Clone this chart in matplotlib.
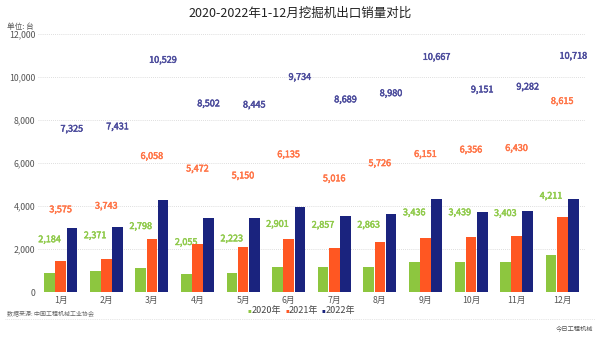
import numpy as np
import matplotlib.pyplot as plt
import matplotlib.patheffects as pe

plt.rcParams['font.family'] = ['Noto Sans CJK SC', 'DejaVu Sans']

months = ['1月', '2月', '3月', '4月', '5月', '6月',
          '7月', '8月', '9月', '10月', '11月', '12月']
sales_2020 = [2184, 2371, 2798, 2055, 2223, 2901, 2857, 2863, 3436, 3439, 3403, 4211]
sales_2021 = [3575, 3743, 6058, 5472, 5150, 6135, 5016, 5726, 6151, 6356, 6430, 8615]
sales_2022 = [7325, 7431, 10529, 8502, 8445, 9734, 8689, 8980, 10667, 9151, 9282, 10718]
years = ['2020年', '2021年', '2022年']

bar_colors = ['#8dc63f', '#ff5722', '#1a237e']
text_colors = ['#8fca4a', '#ff7446', '#4b4b9c']

fig = plt.figure(figsize=(6, 3.39), dpi=100)
ax = fig.add_axes([0.0633, 0.1386, 0.9117, 0.7611])
# bars sit on their own, compressed scale; value labels use the main axis
axb = ax.twinx()

x = np.arange(len(months))
w = 0.235
series = [sales_2020, sales_2021, sales_2022]
for i, vals in enumerate(series):
    off = (i - 1) * (w + 0.01)
    axb.bar(x + off, vals, width=w, color=bar_colors[i], zorder=3)
    for xi, v in zip(x + off, vals):
        t = ax.text(xi, v + 40, f'{v:,}', ha='center', va='bottom',
                    fontsize=6.5, color=text_colors[i])
        # slightly heavier strokes for the value labels
        t.set_path_effects([pe.Stroke(linewidth=0.35, foreground=text_colors[i]),
                            pe.Normal()])

ax.set_xlim(-0.5, 11.5)
ax.set_ylim(0, 12000)
axb.set_ylim(0, 12000 / 0.405)
axb.set_yticks([])
ax.set_yticks(range(0, 12001, 2000))
ax.set_yticklabels([f'{t:,}' for t in range(0, 12001, 2000)])
ax.set_xticks(x)
ax.set_xticklabels(months)
ax.tick_params(axis='both', length=0, labelsize=6.3, colors='#555555')
ax.tick_params(axis='x', pad=3)
ax.tick_params(axis='y', pad=2)
ax.grid(axis='y', linestyle=(0, (1, 1.5)), color='#d4d4d4', linewidth=0.6)
ax.set_axisbelow(True)
for a in (ax, axb):
    for s in a.spines.values():
        s.set_visible(False)

fig.text(0.5, 1 - 13 / 339, '2020-2022年1-12月挖掘机出口销量对比',
         ha='center', va='center', fontsize=9, color='#222222')
fig.text(7 / 600, 1 - 27 / 339, '单位: 台', ha='left', va='center',
         fontsize=5.5, color='#555555')

# legend row
lx = 248
for i, yr in enumerate(years):
    fig.text(lx / 600, 1 - 311 / 339, '▪', ha='left', va='center',
             fontsize=4, color=bar_colors[i], family=['DejaVu Sans'])
    fig.text((lx + 4) / 600, 1 - 311 / 339, yr, ha='left', va='center',
             fontsize=6.5, color='#444444')
    lx += 37

fig.text(7 / 600, 1 - 314 / 339, '数据来源: 中国工程机械工业协会', ha='left',
         va='center', fontsize=4.3, color='#666666')
fig.add_artist(plt.Line2D([5 / 600, 595 / 600], [1 - 318.5 / 339] * 2,
                          transform=fig.transFigure, color='#dddddd',
                          linestyle=(0, (1, 1.2)), linewidth=0.6))
fig.text(593 / 600, 1 - 329 / 339, '今日工程机械', ha='right', va='center',
         fontsize=4.5, color='#555555')

fig.savefig('out.png', dpi=100)
